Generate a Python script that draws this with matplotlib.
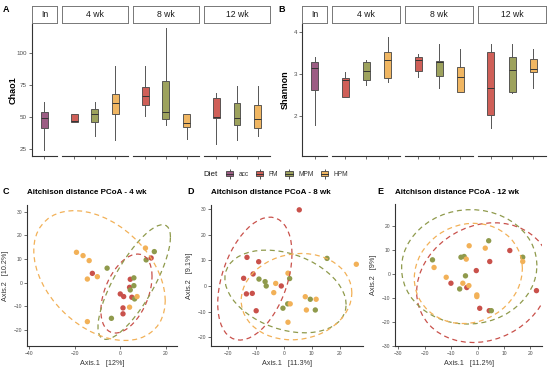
import numpy as np
import matplotlib
matplotlib.use("Agg")
import matplotlib.pyplot as plt
from matplotlib.patches import Patch
from matplotlib.lines import Line2D
from matplotlib.legend_handler import HandlerTuple

plt.rcParams['font.family'] = ['Liberation Sans', 'DejaVu Sans']

# ---- data ----
diets = ["acc", "FM", "MPM", "HPM"]
fill_col = {"acc": "#9c5d84", "FM": "#cf5f58", "MPM": "#9da25d", "HPM": "#f0b662"}
pt_col = {"FM": "#c9514b", "MPM": "#8f9a4c", "HPM": "#f2b158"}

times = ["In", "4 wk", "8 wk", "12 wk"]
box_time = ["In", "4 wk", "4 wk", "4 wk", "8 wk", "8 wk", "8 wk", "12 wk", "12 wk", "12 wk"]
box_diet = ["acc", "FM", "MPM", "HPM", "FM", "MPM", "HPM", "FM", "MPM", "HPM"]

chao_lo  = [24, 46, 35, 32, 51, 44, 33, 29, 32, 35]
chao_q1  = [41, 46, 46, 52, 59, 48, 42, 49, 44, 41]
chao_med = [49, 47, 52, 61, 66, 54, 45, 50, 49, 48]
chao_q3  = [54, 52, 56, 68, 73, 78, 52, 65, 61, 59]
chao_hi  = [62, 52.5, 62, 90, 90, 119, 52, 69, 74, 74]

shan_lo  = [1.78, 2.46, 2.74, 2.80, 2.94, 2.66, 2.58, 1.72, 2.54, 2.66]
shan_q1  = [2.62, 2.46, 2.86, 2.90, 3.08, 2.96, 2.58, 2.02, 2.58, 3.06]
shan_med = [3.14, 2.86, 3.07, 3.35, 3.33, 3.29, 2.94, 2.67, 3.11, 3.12]
shan_q3  = [3.30, 2.91, 3.28, 3.52, 3.40, 3.32, 3.18, 3.53, 3.40, 3.37]
shan_hi  = [3.41, 3.06, 3.35, 3.89, 3.49, 3.73, 3.61, 3.73, 3.73, 3.59]

# PCoA 4 wk
c_x = [-19.3, -16.4, -13.7, -14.5, -10.1, 11.1, 7.4, 4.1, -14.5,
       -12.3, 13.6, 4.4, 4.1, 0.0, 1.5, 5.1, 1.2, 1.2,
       -5.8, 15.0, 11.4, 6.0, 6.0, 4.4, 6.3, -3.9]
c_y = [12.8, 11.4, 9.3, 1.5, 2.5, 14.6, -5.9, -10.4, -16.5,
       3.9, 10.4, 1.4, -2.0, -4.8, -5.9, -6.2, -10.7, -13.2,
       6.1, 13.1, 9.6, 2.0, -1.3, -3.1, -6.9, -15.1]
c_d = ["HPM"] * 9 + ["FM"] * 9 + ["MPM"] * 8

# PCoA 8 wk
d_x = [5.55, -13.2, -9.0, -14.4, -11.0, -13.4, -11.3, -9.9, -0.9,
       -8.9, -6.7, -6.3, 2.1, 1.4, -0.3, 9.5, 11.3, 15.5,
       -2.9, -3.6, 1.5, 2.3, 7.7, 8.1, 11.6, 1.5, 26.0]
d_y = [29.8, 11.2, 9.5, 3.0, 4.7, -3.1, -2.9, -9.7, 0.0,
       2.7, 1.7, 0.0, 2.9, -7.0, -8.7, -5.2, -9.4, 10.8,
       1.0, -2.6, 5.0, -7.0, -4.2, -9.4, -5.2, -14.2, 8.5]
d_d = ["FM"] * 9 + ["MPM"] * 9 + ["HPM"] * 9

# PCoA 12 wk
e_x = [12.2, 4.6, -0.5, -10.1, -4.1, 0.8, 4.4, 22.3,
       -17.1, -6.3, -5.1, 4.2, 17.1, -4.6, -6.8, 5.2,
       -16.5, -4.3, -3.2, 2.9, 17.1, -11.9, -5.6, -3.3, -0.3, -0.3]
e_y = [9.9, 5.3, 1.5, -3.8, -5.6, -14.3, -15.3, -6.9,
       6.0, 7.1, 7.4, 14.0, 7.1, -0.7, -6.2, -15.3,
       2.8, 6.3, 11.9, 10.9, 5.3, -1.3, -3.8, -4.8, -8.7, -9.4]
e_d = ["FM"] * 8 + ["MPM"] * 8 + ["HPM"] * 10

W, H = 550, 367
fig = plt.figure(figsize=(5.5, 3.67), dpi=100)
axc = '#333333'
tkc = '#4d4d4d'


def px_axes(x0, y0, x1, y1):
    return fig.add_axes([x0 / W, 1 - y1 / H, (x1 - x0) / W, (y1 - y0) / H])


def alpha_panel(xl, xr, lo, q1, med, q3, hi, ylim, yticks, ylabel, ylab_x):
    unit = (xr - xl - 15) / 10.8
    x = xl
    for t in times:
        idx = [i for i, bt in enumerate(box_time) if bt == t]
        n = len(idx)
        w = unit * (n - 1 + 1.2)
        ax = px_axes(x, 24, x + w, 156)
        st = px_axes(x, 6, x + w, 23)
        stats = [dict(med=med[i], q1=q1[i], q3=q3[i], whislo=lo[i], whishi=hi[i], fliers=[]) for i in idx]
        bp = ax.bxp(stats, positions=range(n), widths=0.33, patch_artist=True, showcaps=False,
                    boxprops=dict(edgecolor='#444444', linewidth=0.6),
                    medianprops=dict(color='#333333', linewidth=0.7),
                    whiskerprops=dict(color='#555555', linewidth=0.7))
        for b, i in zip(bp['boxes'], idx):
            b.set_facecolor(fill_col[box_diet[i]])
        ax.set_xlim(-0.6, n - 1 + 0.6)
        ax.set_ylim(*ylim)
        ax.set_xticks(range(n))
        ax.set_xticklabels([])
        ax.tick_params(axis='x', length=2, width=0.5, color=axc)
        for s in ['top', 'right']:
            ax.spines[s].set_visible(False)
        ax.spines['bottom'].set_color(axc)
        ax.spines['bottom'].set_linewidth(0.8)
        if t == "In":
            ax.set_yticks(yticks)
            ax.tick_params(axis='y', length=2, width=0.5, color=axc, labelsize=4.5, labelcolor=tkc, pad=1.5)
            ax.spines['left'].set_color(axc)
            ax.spines['left'].set_linewidth(0.8)
        else:
            ax.spines['left'].set_visible(False)
            ax.set_yticks([])
        ax.patch.set_alpha(0)
        st.set_xticks([])
        st.set_yticks([])
        for s in st.spines.values():
            s.set_color('#777777')
            s.set_linewidth(0.7)
        st.text(0.5, 0.5, t, ha='center', va='center', fontsize=6.2, color='#1a1a1a', transform=st.transAxes)
        x += w + 5
    fig.text(ylab_x / W, 1 - 90 / H, ylabel, rotation=90, ha='center', va='center',
             fontsize=6.5, fontweight='bold')


alpha_panel(32, 270, chao_lo, chao_q1, chao_med, chao_q3, chao_hi, (19.5, 122.5),
            [25, 50, 75, 100], "Chao1", 13)
alpha_panel(302, 546, shan_lo, shan_q1, shan_med, shan_q3, shan_hi, (1.04, 4.2),
            [2, 3, 4], "Shannon", 285)

fig.text(3 / W, 1 - 10 / H, "A", fontsize=6.5, fontweight='bold', va='center')
fig.text(278 / W, 1 - 10 / H, "B", fontsize=6.5, fontweight='bold', va='center')

# legend (boxplot-style keys)
handles = []
for d in diets:
    handles.append((Line2D([], [], color='#555555', marker='|', linestyle='none', markersize=6.5, markeredgewidth=0.7),
                    Patch(facecolor=fill_col[d], edgecolor='#444444', linewidth=0.6),
                    Line2D([], [], color='#333333', linewidth=0.7)))
fig.legend(handles, diets, loc='center', bbox_to_anchor=(287 / W, 1 - 174.5 / H), ncol=4, frameon=False,
           fontsize=4.8, handlelength=1.1, handleheight=0.7, columnspacing=1.1, handletextpad=0.8,
           handler_map={tuple: HandlerTuple(ndivide=1, pad=0)}, labelcolor='#333333',
           borderpad=0.2)
fig.text(203 / W, 1 - 174.5 / H, "Diet", fontsize=5.8, va='center', color='#1a1a1a')


def cov_trob(pts, nu=5, maxit=25, tol=0.01):
    n, p = pts.shape
    loc = pts.mean(axis=0)
    w = np.ones(n)
    for _ in range(maxit):
        w0 = w
        X = pts - loc
        S = (X * w[:, None]).T @ X / w.sum()
        Q = np.einsum('ij,jk,ik->i', X, np.linalg.inv(S), X)
        w = (nu + p) / (nu + Q)
        loc = (w[:, None] * pts).sum(0) / w.sum()
        if np.all(np.abs(w - w0) < tol):
            break
    cov = (X * w[:, None]).T @ X / n
    return loc, cov


def ellipse(xs, ys, level=0.95, segs=51):
    pts = np.column_stack([xs, ys])
    loc, cov = cov_trob(pts)
    dfd = len(xs) - 1
    fq = dfd / 2 * ((1 - level) ** (-2 / dfd) - 1)
    r = np.sqrt(2 * fq)
    a = np.linspace(0, 2 * np.pi, segs + 1)
    circ = np.column_stack([np.cos(a), np.sin(a)])
    R = np.linalg.cholesky(cov).T
    e = loc + r * circ @ R
    return e[:, 0], e[:, 1]


def pcoa_panel(box, xs, ys, ds, xlim, ylim, xticks, yticks, title, letter, lx, xlab, ylab):
    ax = px_axes(*box)
    xs = np.array(xs)
    ys = np.array(ys)
    ds = np.array(ds)
    for d in ["FM", "MPM", "HPM"]:
        m = ds == d
        ax.scatter(xs[m], ys[m], s=15, color=pt_col[d], edgecolors='none', zorder=3)
    for d in ["FM", "MPM", "HPM"]:
        m = ds == d
        ex, ey = ellipse(xs[m], ys[m])
        ax.plot(ex, ey, color=pt_col[d], linewidth=0.9, dashes=(4, 3), zorder=4)
    ax.set_xlim(*xlim)
    ax.set_ylim(*ylim)
    ax.set_xticks(xticks)
    ax.set_yticks(yticks)
    ax.tick_params(length=2, width=0.5, color=axc, labelsize=3.6, labelcolor=tkc, pad=1.5)
    for s in ['top', 'right']:
        ax.spines[s].set_visible(False)
    for s in ['left', 'bottom']:
        ax.spines[s].set_color(axc)
        ax.spines[s].set_linewidth(0.8)
    ax.set_xlabel(xlab, fontsize=5.2, color='#333333', labelpad=3)
    ax.set_ylabel(ylab, fontsize=5.2, color='#333333', labelpad=3)
    ax.patch.set_alpha(0)
    fig.text(box[0] / W, 1 - 193 / H, title, fontsize=5.8, fontweight='bold', va='center')
    fig.text(lx / W, 1 - 192 / H, letter, fontsize=6.5, fontweight='bold', va='center')


pcoa_panel((27, 205, 177, 346), c_x, c_y, c_d, (-41.1, 25), (-26.8, 32.8),
           [-40, -20, 0, 20], [-20, -10, 0, 10, 20, 30],
           "Aitchison distance PCoA - 4 wk", "C", 3, "Axis.1   [12%]", "Axis.2   [10.2%]")
pcoa_panel((211, 205, 363, 346), d_x, d_y, d_d, (-26.1, 28.4), (-23.5, 31.7),
           [-20, -10, 0, 10, 20], [-20, -10, 0, 10, 20, 30],
           "Aitchison distance PCoA - 8 wk", "D", 187, "Axis.1   [11.3%]", "Axis.2   [9.1%]")
pcoa_panel((395, 204, 542, 346), e_x, e_y, e_d, (-31.3, 24.4), (-30.1, 29.4),
           [-30, -20, -10, 0, 10, 20], [-30, -20, -10, 0, 10, 20],
           "Aitchison distance PCoA - 12 wk", "E", 377, "Axis.1   [11.2%]", "Axis.2   [9%]")

fig.savefig("out.png", dpi=100)
